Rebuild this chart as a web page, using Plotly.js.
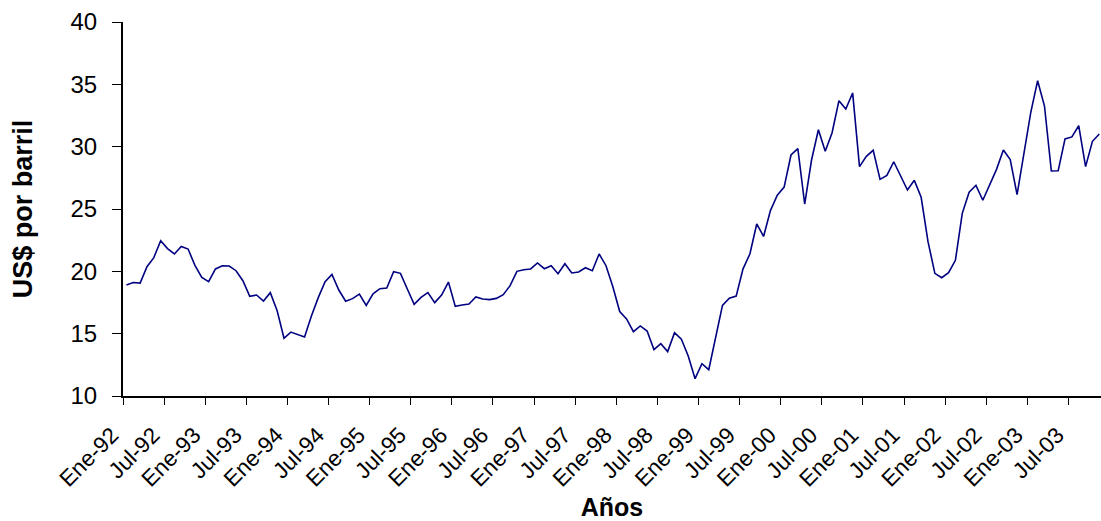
<!DOCTYPE html>
<html>
<head>
<meta charset="utf-8">
<script src="https://cdn.plot.ly/plotly-3.0.1.min.js"></script>
<style>html,body{margin:0;padding:0;background:#fff;}#chart{width:1101px;height:521px;}</style>
</head>
<body>
<div id="chart"></div>
<script>
// Monthly oil price, US$ per barrel, Ene-92 .. Nov-03
const prices = [
  18.90, 19.10, 19.06, 20.37, 21.10, 22.46, 21.82, 21.39, 22.00, 21.79, 20.48, 19.52,
  19.17, 20.19, 20.45, 20.43, 20.05, 19.25, 18.00, 18.10, 17.62, 18.29, 16.84, 14.63,
  15.13, 14.92, 14.73, 16.42, 17.89, 19.17, 19.76, 18.50, 17.60, 17.81, 18.18, 17.27,
  18.20, 18.61, 18.66, 19.97, 19.84, 18.58, 17.35, 17.91, 18.29, 17.49, 18.10, 19.14,
  17.19, 17.30, 17.38, 17.94, 17.78, 17.73, 17.83, 18.13, 18.85, 20.00, 20.13, 20.19,
  20.67, 20.21, 20.45, 19.81, 20.61, 19.87, 19.95, 20.29, 20.05, 21.39, 20.45, 18.77,
  16.78, 16.18, 15.16, 15.62, 15.21, 13.72, 14.20, 13.56, 15.08, 14.55, 13.21, 11.39,
  12.59, 12.11, 14.71, 17.27, 17.85, 18.01, 20.20, 21.39, 23.80, 22.80, 24.87, 26.10,
  26.76, 29.33, 29.84, 25.40, 28.93, 31.36, 29.63, 31.12, 33.69, 33.02, 34.31, 28.40,
  29.22, 29.71, 27.38, 27.70, 28.79, 27.70, 26.52, 27.30, 25.94, 22.38, 19.84, 19.49,
  19.89, 20.88, 24.65, 26.34, 26.90, 25.70, 26.98, 28.18, 29.73, 28.96, 26.15, 29.33,
  32.75, 35.29, 33.26, 28.05, 28.07, 30.62, 30.78, 31.68, 28.40, 30.43, 31.02
];
const tickLabels = [
  "Ene-92","Jul-92","Ene-93","Jul-93","Ene-94","Jul-94","Ene-95","Jul-95",
  "Ene-96","Jul-96","Ene-97","Jul-97","Ene-98","Jul-98","Ene-99","Jul-99",
  "Ene-00","Jul-00","Ene-01","Jul-01","Ene-02","Jul-02","Ene-03","Jul-03"
];
const monthsPerTick = 6;
const yTicks = [10, 15, 20, 25, 30, 35, 40];

// each month is a category centred between tick marks
const xs = prices.map((_, i) => i + 0.5);
const tickVals = tickLabels.map((_, k) => k * monthsPerTick);

const font = "'Liberation Sans', Arial, sans-serif";

Plotly.newPlot('chart', [{
  x: xs, y: prices, type: 'scatter', mode: 'lines',
  line: {color: '#000080', width: 1.6},
  hoverinfo: 'skip'
}], {
  width: 1101, height: 521,
  margin: {l: 123, r: 0, t: 22, b: 125},
  paper_bgcolor: '#fff', plot_bgcolor: '#fff',
  showlegend: false,
  font: {family: font, color: '#000'},
  xaxis: {
    range: [0, 142.75],
    tickmode: 'array', tickvals: tickVals, ticktext: tickLabels,
    tickangle: -45,
    ticks: 'outside', ticklen: 7, tickwidth: 1, tickcolor: '#000',
    showline: true, linecolor: '#000', linewidth: 2,
    showgrid: false, zeroline: false,
    tickfont: {family: font, size: 22.5, color: '#000'},
    ticklabelstandoff: 8,
    ticklabelshift: -11,
    title: {text: 'Años', font: {family: font, size: 25, color: '#000', weight: 'bold'}, standoff: 31},
    automargin: false, fixedrange: true
  },
  yaxis: {
    range: [10, 40],
    tickmode: 'array', tickvals: yTicks,
    ticks: 'outside', ticklen: 9, tickwidth: 1, tickcolor: '#000',
    showline: true, linecolor: '#000', linewidth: 2,
    showgrid: false, zeroline: false,
    tickfont: {family: font, size: 24, color: '#000'},
    ticklabelstandoff: 10,
    title: {text: 'US$ por barril', font: {family: font, size: 27, color: '#000', weight: 'bold'}, standoff: 30},
    automargin: false, fixedrange: true
  }
}, {staticPlot: true, displayModeBar: false});
</script>
</body>
</html>
